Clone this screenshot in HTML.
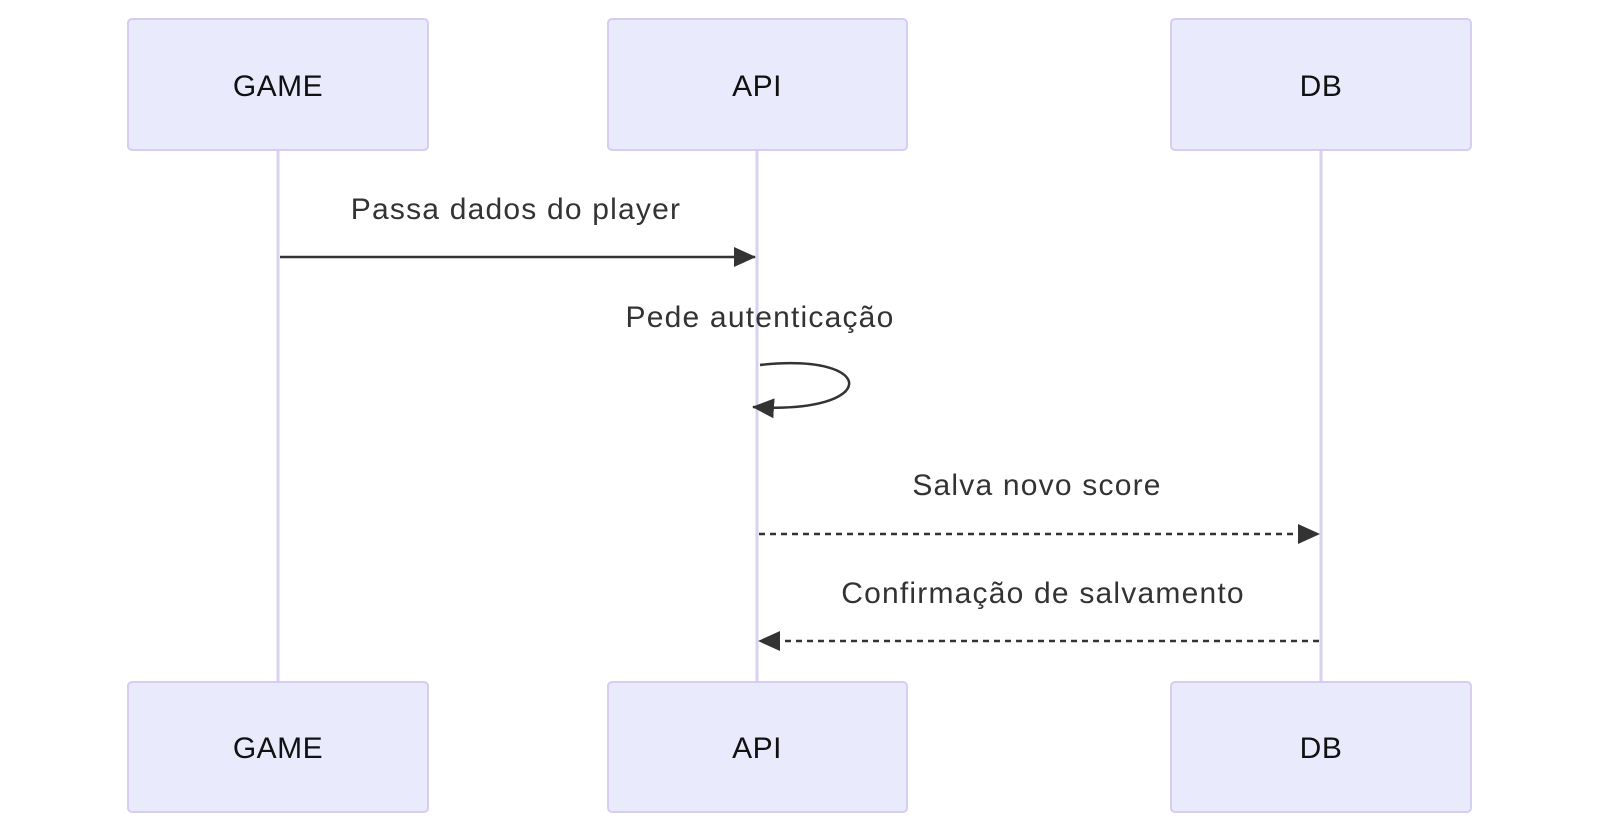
<!DOCTYPE html>
<html><head><meta charset="utf-8"><style>
html,body{margin:0;padding:0;background:#fff;}
svg{display:block;}
text{font-family:"Liberation Sans",sans-serif;}
</style></head><body>
<svg width="1600" height="834" viewBox="0 0 1600 834" xmlns="http://www.w3.org/2000/svg">
<defs>
<marker id="ah2" markerWidth="22" markerHeight="20" refX="21" refY="10" orient="auto" markerUnits="userSpaceOnUse" viewBox="0 0 22 20">
<path d="M0,0 L22,10 L0,20 z" fill="#333"/>
</marker>
</defs>
<g stroke="#d9d0f2" stroke-width="3">
<line x1="278" y1="150" x2="278" y2="682"/>
<line x1="757" y1="150" x2="757" y2="682"/>
<line x1="1321" y1="150" x2="1321" y2="682"/>
</g>
<g fill="#eaeafd" stroke="#d6cdf0" stroke-width="2">
<rect x="128" y="19" width="300" height="131" rx="4"/>
<rect x="608" y="19" width="299" height="131" rx="4"/>
<rect x="1171" y="19" width="300" height="131" rx="4"/>
<rect x="128" y="682" width="300" height="130" rx="4"/>
<rect x="608" y="682" width="299" height="130" rx="4"/>
<rect x="1171" y="682" width="300" height="130" rx="4"/>
</g>
<g font-size="30" fill="#111" text-anchor="middle" letter-spacing="0.5">
<text x="278" y="96">GAME</text>
<text x="757" y="96">API</text>
<text x="1321" y="96">DB</text>
<text x="278" y="758">GAME</text>
<text x="757" y="758">API</text>
<text x="1321" y="758">DB</text>
</g>
<g font-size="30" fill="#333" text-anchor="middle" letter-spacing="1.2">
<text x="516" y="219">Passa dados do player</text>
<text x="760" y="327">Pede autenticação</text>
<text x="1037" y="495">Salva novo score</text>
<text x="1043" y="603">Confirmação de salvamento</text>
</g>
<g stroke="#333" stroke-width="2.5" fill="none">
<line x1="280" y1="257" x2="755" y2="257" marker-end="url(#ah2)"/>
<path d="M760,365 C880,352 880,415 753,407" marker-end="url(#ah2)"/>
<line x1="759" y1="534" x2="1319" y2="534" stroke-dasharray="6,5" marker-end="url(#ah2)"/>
<line x1="1319" y1="641" x2="759" y2="641" stroke-dasharray="6,5" marker-end="url(#ah2)"/>
</g>
</svg>
</body></html>
